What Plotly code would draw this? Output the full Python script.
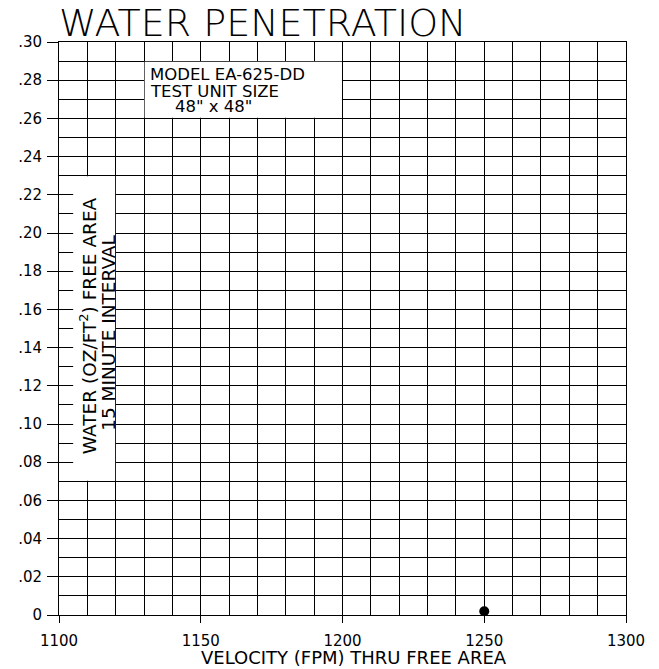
import plotly.graph_objects as go

# Data
velocity = [1250]
water = [0.002]

x_tickvals = [1100, 1150, 1200, 1250, 1300]
x_ticktext = ["1100", "1150", "1200", "1250", "1300"]
y_tickvals = [0, 0.02, 0.04, 0.06, 0.08, 0.10, 0.12, 0.14, 0.16, 0.18, 0.20, 0.22, 0.24, 0.26, 0.28, 0.30]
y_ticktext = ["0", ".02", ".04", ".06", ".08", ".10", ".12", ".14", ".16", ".18", ".20", ".22", ".24", ".26", ".28", ".30"]

title_text = "WATER PENETRATION"
x_title = "VELOCITY (FPM) THRU FREE AREA"
y_label_lines = ["WATER (OZ/FT<sup>2</sup>) FREE AREA", "15 MINUTE INTERVAL"]
model_lines = ["MODEL EA-625-DD", "TEST UNIT SIZE", "48\" x 48\""]

FONT = "DejaVu Sans"

# page body has an 8px margin; figure sized so it ends at the window edge
W, H = 651, 661
ML, MR, MT, MB = 51, 33, 34, 54
PH = H - MT - MB

fig = go.Figure()
fig.add_trace(go.Scatter(
    x=velocity, y=water, mode="markers",
    marker=dict(color="black", size=10),
    cliponaxis=False, showlegend=False,
))

axis_common = dict(
    showline=True, mirror=True, linecolor="black", linewidth=1,
    showgrid=True, gridcolor="black", gridwidth=1, zeroline=False,
    tickfont=dict(family=FONT, size=15, color="black"),
    ticks="outside", tickcolor="black", tickwidth=1, automargin=False,
)

fig.update_xaxes(
    range=[1100, 1300], tickmode="array", tickvals=x_tickvals, ticktext=x_ticktext,
    ticklen=7, ticklabelstandoff=5,
    minor=dict(dtick=10, tick0=1100, showgrid=True, gridcolor="black", gridwidth=1, ticks=""),
    **axis_common,
)
fig.update_yaxes(
    range=[0, 0.30], tickmode="array", tickvals=y_tickvals, ticktext=y_ticktext,
    ticklen=11, ticklabelstandoff=2,
    minor=dict(dtick=0.01, tick0=0, showgrid=True, gridcolor="black", gridwidth=1, ticks=""),
    **axis_common,
)

# x axis title
fig.add_annotation(
    x=0.52, y=-42 / PH, xref="paper", yref="paper", text=x_title,
    showarrow=False, xanchor="center", yanchor="middle",
    font=dict(family=FONT, size=18, color="black"),
)

# white boxes over the grid
fig.add_shape(type="rect", xref="x", yref="y", x0=1105, x1=1119.8, y0=0.0703, y1=0.2297,
              fillcolor="white", line=dict(width=0), layer="above")
fig.add_shape(type="rect", xref="x", yref="y", x0=1130.2, x1=1199.8, y0=0.2603, y1=0.2897,
              fillcolor="white", line=dict(width=0), layer="above")

# rotated y label, one annotation per line
y_label_x = [1110.3, 1117.2]
y_label_y = [0.1513, 0.1476]
for txt, xx, yy in zip(y_label_lines, y_label_x, y_label_y):
    fig.add_annotation(
        x=xx, y=yy, xref="x", yref="y", text=txt,
        textangle=-90, showarrow=False, xanchor="center", yanchor="middle",
        font=dict(family=FONT, size=18.5, color="black"),
    )

# model box text, one annotation per line
model_x = [1131.4, 1131.4, 1140.2]
model_y = [0.2832, 0.2743, 0.2660]
for txt, xx, yy in zip(model_lines, model_x, model_y):
    fig.add_annotation(
        x=xx, y=yy, xref="x", yref="y", text=txt,
        xanchor="left", yanchor="middle", showarrow=False, align="left",
        font=dict(family=FONT, size=16.5, color="black"),
    )

fig.update_layout(
    width=W, height=H,
    margin=dict(l=ML, r=MR, t=MT, b=MB),
    paper_bgcolor="white", plot_bgcolor="white",
    title=dict(text=title_text, x=0, xanchor="left", xref="paper", y=1 - 15 / H,
               yanchor="middle", font=dict(family=FONT, size=38, color="black", weight=200)),
    showlegend=False,
)

fig.write_html("out.html")
